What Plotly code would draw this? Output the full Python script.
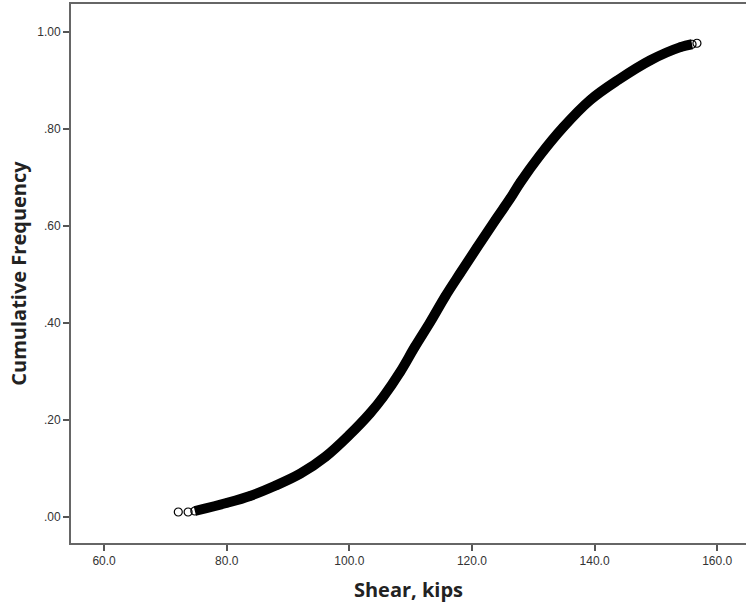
import plotly.graph_objects as go

# Data (Shear in kips, cumulative frequency)
shear = [72.1, 73.7, 74.8, 80.1, 83.8, 87.9, 92.0, 96.1, 100.0, 103.4, 105.5,
         108.3, 110.7, 113.2, 115.6, 118.1, 120.8, 123.8, 126.2, 127.9, 131.1,
         134.9, 139.3, 143.8, 149.1, 154.0, 155.9, 156.7]
cum_freq = [0.010, 0.010, 0.012, 0.029, 0.043, 0.064, 0.089, 0.124, 0.169, 0.214, 0.247,
            0.299, 0.351, 0.402, 0.454, 0.503, 0.555, 0.612, 0.656, 0.690, 0.746,
            0.804, 0.860, 0.901, 0.942, 0.969, 0.975, 0.977]

x_ticks = [60, 80, 100, 120, 140, 160]
x_tick_labels = ["60.0", "80.0", "100.0", "120.0", "140.0", "160.0"]
y_ticks = [0.0, 0.2, 0.4, 0.6, 0.8, 1.0]
y_tick_labels = [".00", ".20", ".40", ".60", ".80", "1.00"]

fig = go.Figure()
# dense band of overlapping points
fig.add_trace(go.Scatter(
    x=shear[2:-1], y=cum_freq[2:-1], mode="lines",
    line=dict(color="black", width=10, shape="spline"),
    hoverinfo="skip", showlegend=False))
# individual observation markers
fig.add_trace(go.Scatter(
    x=shear, y=cum_freq, mode="markers",
    marker=dict(symbol="circle-open", size=8, color="black", line=dict(width=1.2)),
    showlegend=False))

axis_font = dict(family="Liberation Sans, Arial, sans-serif", size=12, color="#333")
title_font = dict(family="Open Sans, sans-serif", size=20, color="#222")

fig.update_layout(
    width=746, height=611,
    margin=dict(l=71, r=0, t=4, b=68, autoexpand=False),
    paper_bgcolor="white", plot_bgcolor="white",
    xaxis=dict(
        range=[54.6, 164.7], tickvals=x_ticks, ticktext=x_tick_labels,
        showgrid=False, zeroline=False, showline=True, mirror=True,
        linecolor="#666", linewidth=2, ticks="outside", ticklen=6, tickwidth=2,
        tickcolor="#555", tickfont=axis_font, automargin=False,
        title=dict(text="<b>Shear, kips</b>", font=title_font, standoff=16)),
    yaxis=dict(
        range=[-0.054, 1.058], tickvals=y_ticks, ticktext=y_tick_labels,
        showgrid=False, zeroline=False, showline=True, mirror=False,
        linecolor="#666", linewidth=2, ticks="outside", ticklen=6, tickwidth=2,
        tickcolor="#555", tickfont=axis_font, automargin=False,
        title=dict(text="<b>Cumulative Frequency</b>", font=title_font, standoff=5)),
)

fig.write_html("out.html", config={"displayModeBar": False},
               post_script="document.body.style.margin='0';")
